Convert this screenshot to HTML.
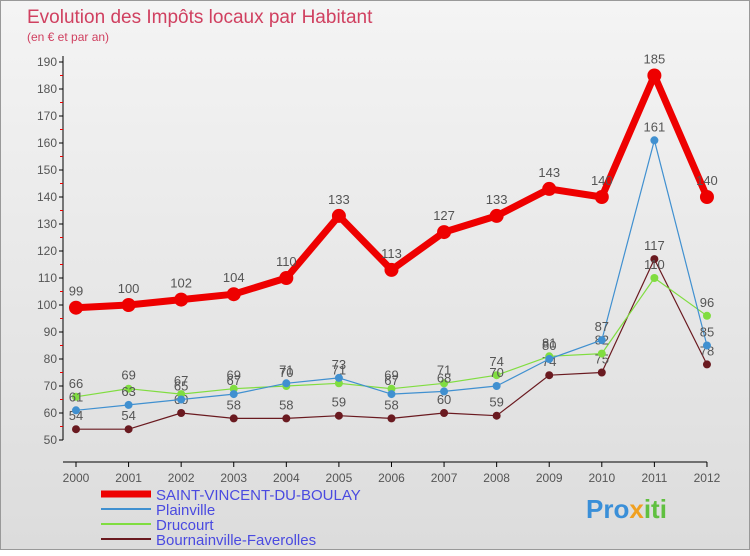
<!DOCTYPE html>
<html><head><meta charset="utf-8"><style>
body{margin:0;width:750px;height:550px;overflow:hidden;font-family:"Liberation Sans","DejaVu Sans",sans-serif;}
#c{position:absolute;left:0;top:0;width:748px;height:548px;border:1px solid #999;background:linear-gradient(#f4f4f4,#dcdcdc);}
</style></head><body>
<div id="c">
<svg id="s" width="750" height="550" xmlns="http://www.w3.org/2000/svg">
<text x="26" y="22" font-size="19" fill="#d04060">Evolution des Impôts locaux par Habitant</text>
<text x="26" y="40" font-size="12" fill="#d04060">(en € et par an)</text>
<g id="axes"></g><g id="series"></g><g id="legend"></g>
<text x="585" y="517" font-size="26" font-weight="bold" fill="#3a8fd8">Pro<tspan fill="#f0a020">x</tspan><tspan fill="#60c040">iti</tspan></text>
</svg></div>
<script>
const years=["2000","2001","2002","2003","2004","2005","2006","2007","2008","2009","2010","2011","2012"];
const saint=[99,100,102,104,110,133,113,127,133,143,140,185,140];
const plainville=[61,63,65,67,71,73,67,68,70,80,87,161,85];
const drucourt=[66,69,67,69,70,71,69,71,74,81,82,110,96];
const bourn=[54,54,60,58,58,59,58,60,59,74,75,117,78];
const yTicks=[50,60,70,80,90,100,110,120,130,140,150,160,170,180,190];
const NS="http://www.w3.org/2000/svg";
const X=i=>75+i*52.58, Y=v=>439-(v-50)*2.7;
function mk(p,t,a){const e=document.createElementNS(NS,t);for(const k in a)e.setAttribute(k,a[k]);p.appendChild(e);return e;}
const ax=document.getElementById('axes');
let l=mk(ax,'line',{x1:62,y1:55,x2:62,y2:439,stroke:'#000'});

l=mk(ax,'line',{x1:62,y1:461,x2:706,y2:461,stroke:'#000'});

yTicks.forEach(v=>{mk(ax,'line',{x1:58,y1:Y(v),x2:62,y2:Y(v),stroke:'#000'});
 if(v<190)mk(ax,'line',{x1:59,y1:Y(v+5),x2:62,y2:Y(v+5),stroke:'#e00'});
 const t=mk(ax,'text',{x:56,y:Y(v)+4,'font-size':12,fill:'#555','text-anchor':'end'});t.textContent=v;
 });
years.forEach((y,i)=>{mk(ax,'line',{x1:X(i),y1:461,x2:X(i),y2:466,stroke:'#000'});
 const t=mk(ax,'text',{x:X(i),y:481,'font-size':12,fill:'#555','text-anchor':'middle'});t.textContent=y;
 });
const sg=document.getElementById('series');
const defs=[[bourn,'#6a1a20',1.2,4,'bournainville-faverolles'],[drucourt,'#80dd40',1.2,4,'drucourt'],[plainville,'#4090d0',1.2,4,'plainville'],[saint,'#ee0000',7,7,'saint-vincent-du-boulay']];
defs.forEach(([d,c,w,r,n])=>{
 const g=mk(sg,'g',{});
 const p=mk(g,'polyline',{points:d.map((v,i)=>X(i)+','+Y(v)).join(' '),fill:'none',stroke:c,'stroke-width':w,'stroke-linejoin':'round'});
 
 d.forEach((v,i)=>{const m=mk(g,'circle',{cx:X(i),cy:Y(v),r:r,fill:c});
  
  const t=mk(g,'text',{x:X(i),y:Y(v)-(r+5),'font-size':13,fill:'#555','text-anchor':'middle'});t.textContent=v;
  });
});
const lg=document.getElementById('legend');
[['SAINT-VINCENT-DU-BOULAY','#ee0000',7],['Plainville','#4090d0',2],['Drucourt','#80dd40',2],['Bournainville-Faverolles','#6a1a20',2]].forEach(([n,c,w],i)=>{
 const y=493+i*15;
 const g=mk(lg,'g',{});
 mk(g,'line',{x1:100,y1:y,x2:150,y2:y,stroke:c,'stroke-width':w});
 const t=mk(g,'text',{x:155,y:y+6,'font-size':15,fill:'#4a4ae0'});t.textContent=n;
});
</script></body></html>
